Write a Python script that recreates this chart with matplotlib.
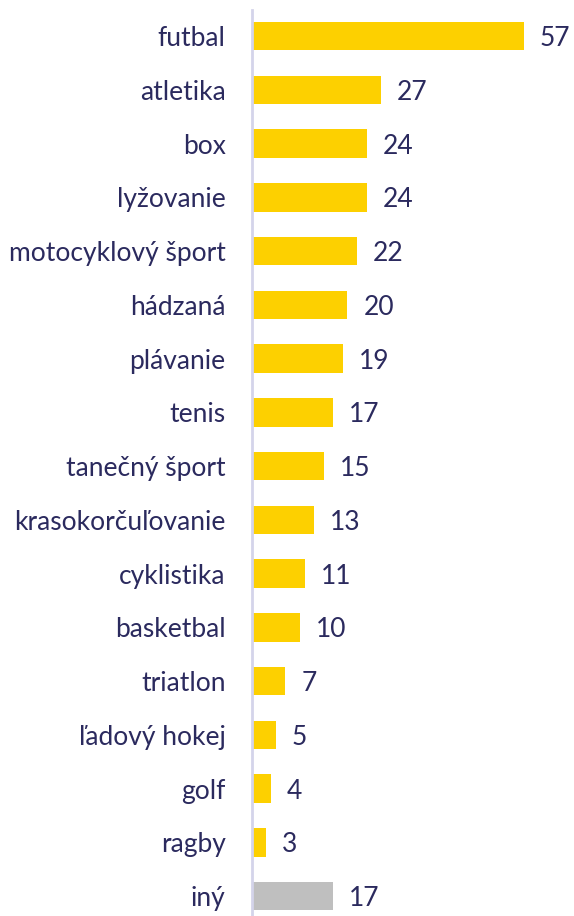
import matplotlib
matplotlib.use('Agg')
import matplotlib.pyplot as plt

#---------------------------------------------------#
#   data
#---------------------------------------------------#
sports = ['futbal', 'atletika', 'box', 'lyžovanie', 'motocyklový šport', 'hádzaná',
          'plávanie', 'tenis', 'tanečný šport', 'krasokorčuľovanie', 'cyklistika',
          'basketbal', 'triatlon', 'ľadový hokej', 'golf', 'ragby', 'iný']
counts = [57, 27, 24, 24, 22, 20, 19, 17, 15, 13, 11, 10, 7, 5, 4, 3, 17]

text_col = '#2b2a5e'
yellow = '#fdd000'
grey = '#bfbfbf'

plt.rcParams['font.family'] = ['Lato', 'DejaVu Sans']

fig = plt.figure(figsize=(5.74, 9.16), dpi=100)
W, H = 574, 916
ax = fig.add_axes([252 / W, 0, (567 - 252) / W, (916 - 10) / H])

colors = [grey if s == 'iný' else yellow for s in sports]
ypos = list(range(len(sports)))
ax.barh(ypos, counts, height=0.53, color=colors)

for y, v in zip(ypos, counts):
    ax.annotate(str(v), xy=(v, y), xytext=(11.5, 0), textcoords='offset points',
                va='center_baseline', ha='left', fontsize=19, color=text_col)

ax.set_xlim(0, 66)
ax.set_ylim(16.37, -0.484)
ax.set_yticks(ypos)
ax.set_yticklabels(sports, fontsize=19, color=text_col, va='center_baseline')
ax.tick_params(axis='y', length=0, pad=19)
ax.set_xticks([])

for side in ['top', 'right', 'bottom']:
    ax.spines[side].set_visible(False)
ax.spines['left'].set_color('#d4d4ea')
ax.spines['left'].set_linewidth(2)

fig.savefig('out.png', dpi=100)
